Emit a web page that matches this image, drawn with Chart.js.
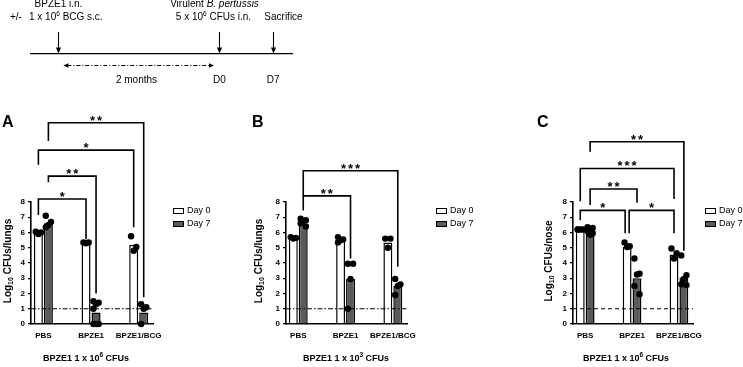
<!DOCTYPE html>
<html><head><meta charset="utf-8">
<script src="https://cdn.jsdelivr.net/npm/chart.js@4.4.0/dist/chart.umd.min.js"></script>
<style>
html,body{margin:0;padding:0;background:#fff;width:743px;height:367px;overflow:hidden}
canvas{position:absolute;left:0;top:0}
</style></head><body>
<canvas id="tl" width="743" height="95"></canvas>
<canvas id="pA" width="743" height="367"></canvas>
<canvas id="pB" width="743" height="367"></canvas>
<canvas id="pC" width="743" height="367"></canvas>
<script>
// ---------------- DATA ----------------
const categories = ['PBS', 'BPZE1', 'BPZE1/BCG'];
const seriesLabels = ['Day 0', 'Day 7'];
const yTickValues = [0, 1, 2, 3, 4, 5, 6, 7, 8];
const detectionLimit = 1;

// Panel A (lungs, BPZE1 1 x 10^6)
const A_day0Mean = [5.95, 5.3, 5.2];
const A_day7Mean = [6.6, 0.75, 0.75];
const A_day0Pts = [[5.9, 6.0, 6.05], [5.3, 5.35, 5.35], [5.75, 5.05, 4.8]];
const A_day7Pts = [[7.1, 6.7, 6.5, 6.35], [1.5, 1.4, 1.3, 1.0, 0, 0, 0], [1.3, 1.1, 1.0, 0]];
const A_stats = [
  {from: [0, 0], to: [1, 0], stars: 1, level: 8.2, ends: [7.15, 5.55]},
  {from: [0, 1], to: [1, 1], stars: 2, level: 9.7, ends: [9.3, 2.0]},
  {from: [0, 0], to: [2, 0], stars: 1, level: 11.4, ends: [10.45, 6.35]},
  {from: [0, 1], to: [2, 1], stars: 2, level: 13.2, ends: [12.0, 1.75]}
];

// Panel B (lungs, BPZE1 1 x 10^3)
const B_day0Mean = [5.6, 5.5, 5.35];
const B_day7Mean = [6.5, 2.95, 2.5];
const B_day0Pts = [[5.7, 5.65, 5.6], [5.7, 5.55, 5.5, 5.35], [5.6, 5.6, 5.0]];
const B_day7Pts = [[6.9, 6.8, 6.75, 6.6, 6.4], [3.95, 3.95, 2.95, 1.0], [2.95, 2.6, 2.5, 1.9]];
const B_stats = [
  {from: [0, 1], to: [1, 1], stars: 2, level: 8.4, ends: [7.45, 4.3]},
  {from: [0, 1], to: [2, 1], stars: 3, level: 10.05, ends: [8.4, 3.75]}
];

// Panel C (nose, BPZE1 1 x 10^6)
const C_day0Mean = [6.2, 5.05, 4.55];
const C_day7Mean = [6.05, 3.0, 3.05];
const C_day0Pts = [[6.2, 6.2, 6.2, 6.2], [5.35, 5.1, 5.05], [4.95, 4.65, 4.3]];
const C_day7Pts = [[6.35, 6.3, 6.25, 6.1, 5.95, 5.85], [4.3, 3.3, 3.25, 2.5, 1.95], [4.5, 3.2, 2.95, 2.6, 2.55]];
const C_stats = [
  {from: [0, 0], to: [1, 0], stars: 1, level: 7.45, ends: [6.8, 5.95], dx2: -2},
  {from: [1, 0], to: [2, 0], stars: 1, level: 7.45, ends: [5.95, 5.95], dx1: 2},
  {from: [0, 1], to: [1, 1], stars: 2, level: 8.85, ends: [7.8, 7.95]},
  {from: [0, 0], to: [2, 0], stars: 3, level: 10.2, ends: [8.05, 8.2]},
  {from: [0, 1], to: [2, 1], stars: 2, level: 11.95, ends: [11.3, 4.8]}
];

// Timeline (schematic units)
const timelineEvents = [0, 3, 4];
const timelineTickPos = [1.46, 3, 4];
const timelineTickLabels = ['2 months', 'D0', 'D7'];
const timelineSpan = [0.1, 2.9];

// ---------------- STYLE / LAYOUT ----------------
const FONT = "'Liberation Sans', Arial, sans-serif";
Chart.defaults.font.family = FONT;
Chart.defaults.color = '#000';
const CAT_PCT = 0.42, BAR_PCT = 0.9;
const DODGE = CAT_PCT / 4;
const JIT = 0.055;
const Y_W = 20, X_H = 20, PLOT_TOP = 202, PLOT_BOTTOM = 324;
const DAY7_FILL = '#5a5a5a';

function spread(groups, side) {
  const out = [];
  groups.forEach((vals, cat) => {
    vals.slice().sort((a, b) => b - a).forEach((v, j) => {
      out.push({x: cat + side * DODGE + [-1, 1, 0][j % 3] * JIT, y: v});
    });
  });
  return out;
}

function drawRich(ctx, parts, x, y, align) {
  let w = 0;
  parts.forEach(p => { ctx.font = p.font; p.w = ctx.measureText(p.t).width; w += p.w; });
  let cx = align === 'center' ? x - w / 2 : (align === 'right' ? x - w : x);
  ctx.textAlign = 'left'; ctx.textBaseline = 'alphabetic';
  parts.forEach(p => { ctx.font = p.font; ctx.fillText(p.t, cx, y + (p.dy || 0)); cx += p.w; });
}

const panelPlugin = {
  id: 'panelDecor',
  afterDatasetsDraw(chart) {
    const cfg = chart.config.options.plugins.panelDecor;
    const ctx = chart.ctx, ys = chart.scales.y, ca = chart.chartArea;
    ctx.save();
    // detection limit line
    const yl = ys.getPixelForValue(detectionLimit);
    ctx.strokeStyle = '#000'; ctx.lineWidth = 1.2;
    ctx.setLineDash(cfg.refDash);
    ctx.beginPath(); ctx.moveTo(ca.left, yl); ctx.lineTo(ca.right, yl); ctx.stroke();
    ctx.setLineDash([]);
    // significance brackets
    const barX = (cat, s) => chart.getDatasetMeta(s).data[cat].x;
    ctx.lineWidth = 1.6;
    cfg.stats.forEach(b => {
      const x1 = barX(b.from[0], b.from[1]) + (b.dx1 || 0);
      const x2 = barX(b.to[0], b.to[1]) + (b.dx2 || 0);
      const yb = ys.getPixelForValue(b.level);
      ctx.beginPath();
      ctx.moveTo(x1, ys.getPixelForValue(b.ends[0]));
      ctx.lineTo(x1, yb); ctx.lineTo(x2, yb);
      ctx.lineTo(x2, ys.getPixelForValue(b.ends[1]));
      ctx.stroke();
      ctx.fillStyle = '#000';
      ctx.font = 'bold 13px ' + FONT; ctx.textAlign = 'center'; ctx.textBaseline = 'alphabetic';
      const mid = (x1 + x2) / 2;
      for (let k = 0; k < b.stars; k++) ctx.fillText('*', mid + (k - (b.stars - 1) / 2) * 7, yb + 2);
    });
    ctx.restore();
  },
  afterDraw(chart) {
    const cfg = chart.config.options.plugins.panelDecor;
    const ctx = chart.ctx, ca = chart.chartArea;
    ctx.save();
    ctx.fillStyle = '#000';
    // panel letter
    ctx.font = 'bold 16px ' + FONT; ctx.textAlign = 'left'; ctx.textBaseline = 'alphabetic';
    ctx.fillText(cfg.letter, cfg.letterX, 127);
    // y-axis title
    ctx.save();
    ctx.translate(cfg.yTitleX, (ca.top + ca.bottom) / 2 - 2);
    ctx.rotate(-Math.PI / 2);
    drawRich(ctx, [
      {t: 'Log', font: 'bold 10px ' + FONT},
      {t: '10', font: 'bold 7px ' + FONT, dy: 2},
      {t: ' ' + cfg.yTitle, font: 'bold 10px ' + FONT}
    ], 0, 3.6, 'center');
    ctx.restore();
    // x title
    drawRich(ctx, [
      {t: 'BPZE1 1 x 10', font: 'bold 9px ' + FONT},
      {t: cfg.exp, font: 'bold 6.5px ' + FONT, dy: -4},
      {t: ' CFUs', font: 'bold 9px ' + FONT}
    ], cfg.xTitleX, 361, 'center');
    // legend
    chart.data.datasets.slice(0, 2).forEach((ds, i) => {
      const yc = 211 + i * 13;
      ctx.fillStyle = ds.backgroundColor;
      ctx.fillRect(cfg.legendX, yc - 3, 11, 6);
      ctx.strokeStyle = '#000'; ctx.lineWidth = 1;
      ctx.strokeRect(cfg.legendX + 0.5, yc - 2.5, 10, 5);
      ctx.fillStyle = '#000';
      ctx.font = '9px ' + FONT; ctx.textAlign = 'left'; ctx.textBaseline = 'middle';
      ctx.fillText(ds.label, cfg.legendX + 14, yc);
    });
    ctx.restore();
  }
};

function makePanel(p) {
  const bar = (label, data, fill) => ({
    type: 'bar', label, data: data.map((v, i) => ({x: i, y: v})),
    backgroundColor: fill, borderColor: '#000', borderWidth: 1.5, borderSkipped: 'start',
    categoryPercentage: CAT_PCT, barPercentage: BAR_PCT, order: 2
  });
  const pts = (data) => ({
    type: 'scatter', data, pointRadius: 3.2, pointBackgroundColor: '#000',
    pointBorderWidth: 0, showLine: false, clip: false, order: 0
  });
  return new Chart(document.getElementById(p.id), {
    type: 'bar',
    data: {datasets: [
      bar(seriesLabels[0], p.day0Mean, '#ffffff'),
      bar(seriesLabels[1], p.day7Mean, DAY7_FILL),
      pts(spread(p.day0Pts, -1)),
      pts(spread(p.day7Pts, 1))
    ]},
    options: {
      responsive: false, animation: false, events: [], devicePixelRatio: 1,
      layout: {padding: {left: p.left - Y_W, right: 743 - p.right, top: PLOT_TOP, bottom: 367 - PLOT_BOTTOM - X_H}},
      plugins: {
        legend: {display: false}, tooltip: {enabled: false},
        panelDecor: p.decor
      },
      scales: {
        x: {
          type: 'linear', min: -0.26, max: 2.3, offset: false,
          afterFit(s) { s.height = X_H; },
          afterBuildTicks(s) { s.ticks = categories.map((c, i) => ({value: i})); },
          ticks: {callback: (v) => categories[v], font: {size: 8, weight: 'bold'}, padding: 7, maxRotation: 0, autoSkip: false, color: '#000'},
          grid: {display: false, drawTicks: false},
          border: {display: true, color: '#000', width: 1.6}
        },
        y: {
          type: 'linear', min: 0, max: 8,
          afterFit(s) { s.width = Y_W; },
          afterBuildTicks(s) { s.ticks = yTickValues.map(v => ({value: v})); },
          ticks: {font: {size: 8, weight: 'bold'}, padding: 3, color: '#000'},
          grid: {display: true, drawOnChartArea: false, drawTicks: true, tickLength: 3, color: '#000', lineWidth: 1.3},
          border: {display: true, color: '#000', width: 1.6}
        }
      }
    },
    plugins: [panelPlugin]
  });
}

makePanel({id: 'pA', left: 31, right: 153, day0Mean: A_day0Mean, day7Mean: A_day7Mean, day0Pts: A_day0Pts, day7Pts: A_day7Pts,
  decor: {stats: A_stats, refDash: [5, 2, 1.5, 2], letter: 'A', letterX: 2, yTitle: 'CFUs/lungs', yTitleX: 7, xTitleX: 86, exp: '6', legendX: 173}});
makePanel({id: 'pB', left: 286, right: 407, day0Mean: B_day0Mean, day7Mean: B_day7Mean, day0Pts: B_day0Pts, day7Pts: B_day7Pts,
  decor: {stats: B_stats, refDash: [5, 2, 1.5, 2], letter: 'B', letterX: 252, yTitle: 'CFUs/lungs', yTitleX: 258, xTitleX: 346, exp: '3', legendX: 436}});
makePanel({id: 'pC', left: 573, right: 693, day0Mean: C_day0Mean, day7Mean: C_day7Mean, day0Pts: C_day0Pts, day7Pts: C_day7Pts,
  decor: {stats: C_stats, refDash: [4, 3], letter: 'C', letterX: 537, yTitle: 'CFUs/nose', yTitleX: 548, xTitleX: 626, exp: '6', legendX: 705}});

// ---------------- TIMELINE ----------------
const timelinePlugin = {
  id: 'timeline',
  afterDraw(chart) {
    const ctx = chart.ctx, xs = chart.scales.x, base = chart.chartArea.bottom;
    ctx.save();
    ctx.strokeStyle = '#000'; ctx.fillStyle = '#000';
    const ex = timelineEvents.map(t => Math.round(xs.getPixelForValue(t)) + 0.5);
    ex.forEach(x => {
      ctx.lineWidth = 1.1;
      ctx.beginPath(); ctx.moveTo(x, 32); ctx.lineTo(x, base - 5); ctx.stroke();
      ctx.beginPath(); ctx.moveTo(x - 2.6, base - 6.5); ctx.lineTo(x + 2.6, base - 6.5); ctx.lineTo(x, base - 0.5); ctx.closePath(); ctx.fill();
    });
    // double arrow (dash-dot)
    const xa = xs.getPixelForValue(timelineSpan[0]), xb = xs.getPixelForValue(timelineSpan[1]), ya = 65.5;
    ctx.lineWidth = 1; ctx.setLineDash([4, 2, 1, 2]);
    ctx.beginPath(); ctx.moveTo(xa + 4, ya); ctx.lineTo(xb - 4, ya); ctx.stroke();
    ctx.setLineDash([]);
    ctx.beginPath(); ctx.moveTo(xa, ya); ctx.lineTo(xa + 5, ya - 2.3); ctx.lineTo(xa + 5, ya + 2.3); ctx.closePath(); ctx.fill();
    ctx.beginPath(); ctx.moveTo(xb, ya); ctx.lineTo(xb - 5, ya - 2.3); ctx.lineTo(xb - 5, ya + 2.3); ctx.closePath(); ctx.fill();
    // labels
    const R = '10px ' + FONT, S = '6.5px ' + FONT, I = 'italic 10px ' + FONT;
    drawRich(ctx, [{t: 'BPZE1 i.n.', font: R}], ex[0], 7, 'center');
    drawRich(ctx, [{t: '+/-', font: R}], 10, 20, 'left');
    drawRich(ctx, [{t: '1 x 10', font: R}, {t: '6', font: S, dy: -4}, {t: ' BCG s.c.', font: R}], 29, 20, 'left');
    drawRich(ctx, [{t: 'Virulent ', font: R}, {t: 'B. pertussis', font: I}], ex[1] - 5, 7, 'center');
    drawRich(ctx, [{t: '5 x 10', font: R}, {t: '6', font: S, dy: -4}, {t: ' CFUs i.n.', font: R}], ex[1] - 6, 20, 'center');
    drawRich(ctx, [{t: 'Sacrifice', font: R}], ex[2] + 10, 20, 'center');
    ctx.restore();
  }
};

new Chart(document.getElementById('tl'), {
  type: 'scatter',
  data: {datasets: []},
  options: {
    responsive: false, animation: false, events: [], devicePixelRatio: 1,
    layout: {padding: {left: 31, right: 743 - 292, top: 0, bottom: 95 - 54 - 30}},
    plugins: {legend: {display: false}, tooltip: {enabled: false}},
    scales: {
      x: {
        type: 'linear', min: -0.5, max: 4.35,
        afterFit(s) { s.height = 30; },
        afterBuildTicks(s) { s.ticks = timelineTickPos.map(v => ({value: v})); },
        ticks: {callback: (v) => timelineTickLabels[timelineTickPos.indexOf(v)], padding: 20, font: {size: 10}, color: '#000', maxRotation: 0, autoSkip: false},
        grid: {display: false, drawTicks: false},
        border: {display: true, color: '#000', width: 1.2}
      },
      y: {display: false, min: 0, max: 1}
    }
  },
  plugins: [timelinePlugin]
});
</script>
</body></html>
